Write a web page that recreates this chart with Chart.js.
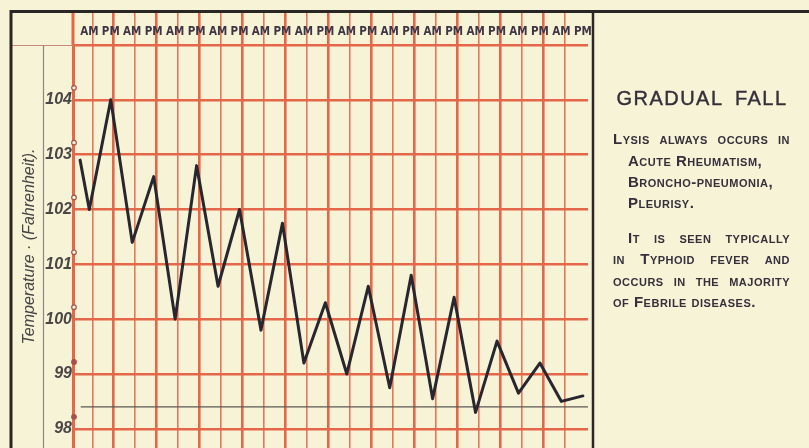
<!DOCTYPE html>
<html>
<head>
<meta charset="utf-8">
<script src="https://cdn.jsdelivr.net/npm/chart.js@4.4.1/dist/chart.umd.min.js"></script>
<style>
  html, body { margin: 0; padding: 0; background: #f7f3d6; }
  #wrap { position: relative; width: 809px; height: 448px; overflow: hidden; }
  #chart { position: absolute; left: 0; top: 0; }
  #notes { position: absolute; left: 595px; top: 0; width: 214px; height: 448px; color: #342f3a;
           font-family: "Liberation Sans", Arial, sans-serif; }
  #notes h2 { position: absolute; left: 0; top: 87px; width: 214px; margin: 0; text-align: center;
              font-size: 20px; line-height: 22px; font-weight: normal; letter-spacing: 1.5px; word-spacing: 5px;
              -webkit-text-stroke: 0.4px #342f3a; }
  .ln { position: absolute; font-weight: bold; font-variant: small-caps; font-size: 15px; line-height: 16px;
        letter-spacing: 0.5px; white-space: nowrap; }
  .just { white-space: normal; text-align: justify; text-align-last: justify; }
</style>
</head>
<body>
<div id="wrap">
  <canvas id="chart" width="809" height="448"></canvas>
  <div id="notes">
    <h2>GRADUAL FALL</h2>
    <div class="ln just" style="left:18px; width:177px; top:131px;">Lysis always occurs in</div>
    <div class="ln" style="left:33px; top:153px;">Acute Rheumatism,</div>
    <div class="ln" style="left:33px; top:174px;">Broncho-pneumonia,</div>
    <div class="ln" style="left:33px; top:195px;">Pleurisy.</div>
    <div class="ln just" style="left:33px; width:162px; top:230px;">It is seen typically</div>
    <div class="ln just" style="left:18px; width:177px; top:251px;">in Typhoid fever and</div>
    <div class="ln just" style="left:18px; width:177px; top:273px;">occurs in the majority</div>
    <div class="ln" style="left:18px; top:294px;">of Febrile diseases.</div>
  </div>
</div>
<script>
// half-day slots along the top
const halfDays = ['AM', 'PM', 'AM', 'PM', 'AM', 'PM', 'AM', 'PM', 'AM', 'PM', 'AM', 'PM',
                  'AM', 'PM', 'AM', 'PM', 'AM', 'PM', 'AM', 'PM', 'AM', 'PM', 'AM', 'PM'];
// temperature at each slot
const temps = [102.0, 104.0, 101.4, 102.6, 100.0, 102.8, 100.6, 102.0, 99.8, 101.75, 99.2, 100.3,
               99.0, 100.6, 98.75, 100.8, 98.55, 100.4, 98.3, 99.6, 98.65, 99.2, 98.5, 98.6];
// the line starts a little before the first AM reading
const startTime = -0.43;
const startTemp = 102.9;
const degreeTicks = [98, 99, 100, 101, 102, 103, 104, 105];
const normalTemp = 98.4;

const red = '#e4674a';
const redThin = '#e7765b';

const readings = [{ x: startTime, y: startTemp }].concat(temps.map((t, i) => ({ x: i, y: t })));

// no extra room for the edge labels, the chart fills the box
function noPad(s) {
    s.paddingTop = 0;
    s.paddingBottom = 0;
    s.paddingLeft = 0;
    s.paddingRight = 0;
}

const paperPlugin = {
    id: 'paper',
    afterDraw(chart) {
        const ctx = chart.ctx;
        const a = chart.chartArea;
        const y = chart.scales.y;
        ctx.save();
        // red axis carried up through the AM/PM band
        ctx.strokeStyle = red;
        ctx.lineWidth = 3;
        ctx.beginPath(); ctx.moveTo(a.left, 12); ctx.lineTo(a.left, a.top); ctx.stroke();
        // thin rule under the corner box
        ctx.strokeStyle = '#c98a78';
        ctx.lineWidth = 1.2;
        ctx.beginPath(); ctx.moveTo(12, a.top + 0.5); ctx.lineTo(a.left, a.top + 0.5); ctx.stroke();
        // grey rule beside the axis title
        ctx.strokeStyle = '#8d8880';
        ctx.beginPath(); ctx.moveTo(43.5, a.top); ctx.lineTo(43.5, a.bottom); ctx.stroke();
        // black frame
        ctx.strokeStyle = '#2a2626';
        ctx.lineWidth = 3;
        ctx.beginPath(); ctx.moveTo(11, a.bottom); ctx.lineTo(11, 11.5); ctx.lineTo(809, 11.5); ctx.stroke();
        ctx.lineWidth = 2.5;
        ctx.beginPath(); ctx.moveTo(593, 11.5); ctx.lineTo(593, a.bottom); ctx.stroke();
        // little degree circles on the axis
        degreeTicks.slice(0, -1).forEach(v => {
            const py = y.getPixelForValue(v) - 12;
            ctx.beginPath();
            ctx.arc(a.left + 1, py, 2.3, 0, Math.PI * 2);
            ctx.fillStyle = v < 100 ? '#a9504a' : '#f7f3d6';
            ctx.fill();
            ctx.strokeStyle = '#a9504a';
            ctx.lineWidth = 1.2;
            ctx.stroke();
        });
        ctx.restore();
    }
};

new Chart(document.getElementById('chart'), {
    type: 'line',
    data: {
        datasets: [{
            data: readings,
            borderColor: '#28262e',
            borderWidth: 3,
            borderJoinStyle: 'round',
            borderCapStyle: 'round',
            pointRadius: 0,
            tension: 0
        }, {
            data: [{ x: -0.4, y: normalTemp }, { x: 23.24, y: normalTemp }],
            borderColor: '#5d5853',
            borderWidth: 1.2,
            pointRadius: 0
        }]
    },
    options: {
        responsive: false,
        animation: false,
        layout: { padding: { left: 0, top: 0, right: 221, bottom: 0 } },
        plugins: { legend: { display: false }, tooltip: { enabled: false } },
        scales: {
            x: {
                type: 'linear',
                position: 'top',
                min: -0.76,
                max: 23.24,
                afterBuildTicks: s => { s.ticks = halfDays.map((h, i) => ({ value: i + 0.14 })); },
                afterFit: s => { s.height = 45; noPad(s); },
                ticks: {
                    autoSkip: false,
                    maxRotation: 0,
                    padding: -27,
                    labelOffset: -3,
                    color: '#3f3545',
                    font: { family: '"DejaVu Sans Condensed", "Liberation Sans Narrow", sans-serif', size: 11.5, weight: 'bold' },
                    callback: (v, i) => halfDays[i]
                },
                grid: {
                    drawTicks: true,
                    tickLength: 33,
                    color: c => c.index === 23 ? 'rgba(0,0,0,0)' : (c.index % 2 ? red : redThin),
                    lineWidth: c => c.index % 2 ? 2.6 : 1.6
                },
                border: { display: false }
            },
            y: {
                min: 97.65,
                max: 105,
                afterBuildTicks: s => { s.ticks = degreeTicks.map(v => ({ value: v })); },
                afterFit: s => { s.width = 73; noPad(s); },
                ticks: {
                    padding: 1,
                    color: '#4a4646',
                    font: { family: '"Liberation Sans", Arial, sans-serif', size: 16, style: 'italic', weight: 'bold' },
                    callback: v => v === 105 ? '' : v
                },
                grid: { drawTicks: false, color: red, lineWidth: 2.6 },
                border: { display: true, color: red, width: 3 },
                title: {
                    display: true,
                    text: 'Temperature · (Fahrenheit).',
                    color: '#444',
                    font: { family: '"Liberation Sans", Arial, sans-serif', size: 16, style: 'italic' },
                    padding: { top: 20, bottom: 0 }
                }
            }
        }
    },
    plugins: [paperPlugin]
});
</script>
</body>
</html>
